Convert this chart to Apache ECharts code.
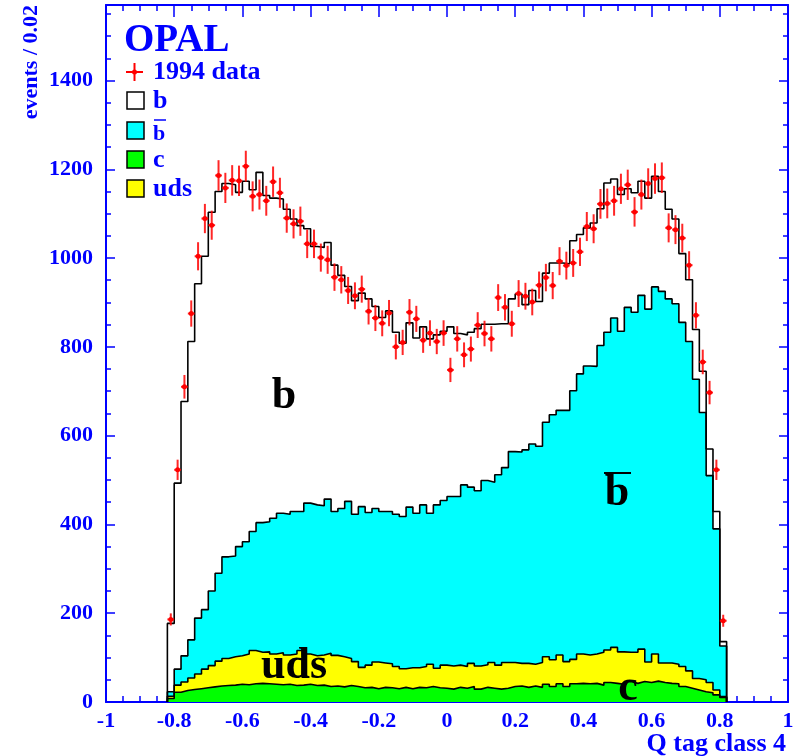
<!DOCTYPE html>
<html>
<head>
<meta charset="utf-8">
<script src="https://cdn.jsdelivr.net/npm/echarts@6/dist/echarts.min.js"></script>
<style>
  html, body { margin: 0; padding: 0; background: #ffffff; }
  #chart { width: 804px; height: 756px; }
</style>
</head>
<body>
<div id="chart"></div>
<script>
// Histogram binning: 82 bins of width 0.02 starting at -0.82
const binLow = -0.82;
const binWidth = 0.02;

// Stacked Monte Carlo contributions (each array is the running sum drawn as one outline)
// b + bbar + c + uds
const stackTotal = [
  177, 493, 677, 812, 942, 1004, 1103, 1150, 1168, 1165,
  1148, 1173, 1154, 1193, 1141, 1135, 1133, 1110, 1088, 1073,
  1066, 1026, 1024, 1035, 984, 961, 936, 904, 921, 908,
  891, 866, 881, 833, 808, 854, 820, 845, 818, 827,
  835, 845, 830, 827, 833, 841, 851, 851, 852, 852,
  908, 919, 895, 927, 902, 966, 989, 989, 987, 1039,
  1053, 1068, 1079, 1111, 1169, 1178, 1143, 1156, 1147, 1173,
  1135, 1184, 1150, 1110, 1088, 1010, 951, 839, 745, 570,
  429, 136
];
// bbar + c + uds
const stackBbar = [
  23, 74, 104, 140, 189, 208, 250, 290, 327, 329,
  350, 361, 384, 404, 406, 414, 425, 423, 429, 429,
  448, 444, 442, 457, 429, 436, 452, 423, 440, 427,
  436, 429, 429, 423, 418, 439, 425, 444, 425, 444,
  454, 463, 463, 489, 484, 476, 499, 495, 512, 528,
  564, 563, 568, 581, 576, 630, 647, 657, 657, 701,
  739, 757, 756, 803, 833, 865, 835, 889, 878, 916,
  885, 935, 925, 908, 897, 855, 812, 727, 652, 510,
  390, 126
];
// c + uds
const stackUds = [
  13, 38, 45, 54, 63, 74, 82, 92, 98, 102,
  104, 108, 116, 112, 113, 108, 111, 106, 108, 116,
  108, 104, 106, 110, 105, 102, 98, 91, 78, 83,
  90, 88, 86, 80, 75, 77, 77, 80, 85, 76,
  83, 81, 83, 80, 87, 81, 84, 89, 83, 89,
  89, 87, 87, 85, 89, 102, 95, 106, 91, 96,
  108, 106, 108, 112, 117, 123, 113, 112, 112, 119,
  90, 108, 88, 88, 85, 80, 70, 53, 50, 44,
  27, 12
];
// c
const stackC = [
  8, 22, 26, 28, 30, 32, 34, 36, 37, 38,
  40, 39, 41, 42, 41, 40, 39, 40, 37, 38,
  40, 37, 38, 35, 36, 34, 37, 35, 32, 33,
  30, 33, 32, 30, 33, 30, 33, 32, 35, 32,
  31, 29, 33, 31, 35, 29, 33, 31, 29, 31,
  35, 36, 33, 36, 33, 40, 35, 41, 35, 41,
  42, 41, 42, 38, 44, 42, 40, 46, 42, 46,
  44, 47, 44, 42, 41, 35, 31, 27, 23, 21,
  16, 10
];
// 1994 data, events per bin
const data1994 = [
  186, 523, 710, 875, 1004, 1089, 1074, 1186, 1158, 1175,
  1174, 1207, 1139, 1143, 1129, 1172, 1147, 1090, 1077, 1083,
  1032, 1032, 1001, 996, 957, 951, 927, 915, 930, 880,
  865, 853, 876, 800, 810, 878, 863, 815, 831, 812,
  831, 748, 818, 782, 795, 849, 830, 818, 911, 889,
  852, 920, 914, 901, 939, 956, 938, 993, 983, 989,
  1014, 1071, 1066, 1122, 1123, 1129, 1156, 1165, 1104, 1143,
  1168, 1179, 1181, 1068, 1064, 1045, 984, 871, 766, 697,
  523, 183
];

const xTickLabels = ['-1', '-0.8', '-0.6', '-0.4', '-0.2', '0', '0.2', '0.4', '0.6', '0.8', '1'];
const yTickLabels = ['0', '200', '400', '600', '800', '1000', '1200', '1400'];

const BLUE = '#0000ff';
const SERIF = '"Liberation Serif", "Times New Roman", serif';

// Turn per-bin heights into an outlined step polygon along the bin edges
function stepPoints(vals) {
  const pts = [[binLow, 0]];
  vals.forEach((v, i) => pts.push([binLow + i * binWidth, v]));
  const hi = binLow + vals.length * binWidth;
  pts.push([hi, vals[vals.length - 1]]);
  pts.push([hi, 0]);
  return pts;
}

function histSeries(name, vals, fill) {
  return {
    name: name,
    type: 'line',
    step: 'end',
    data: stepPoints(vals),
    symbol: 'none',
    animation: false,
    silent: true,
    lineStyle: { color: '#000000', width: 1.6 },
    areaStyle: { color: fill, opacity: 1, origin: 'start' }
  };
}

const dataPoints = data1994.map((v, i) => [binLow + (i + 0.5) * binWidth, v]);

function tickFmt(labels, step, first) {
  return function (val) {
    const idx = Math.round((val - first) / step);
    if (Math.abs(first + idx * step - val) > step * 1e-3) return '';
    return labels[idx] !== undefined ? labels[idx] : '';
  };
}

const axisFont = { color: BLUE, fontFamily: SERIF, fontWeight: 'bold', fontSize: 22 };

function xAxisDef(pos, showLabels) {
  return {
    type: 'value', position: pos, min: -1, max: 1, interval: 0.2,
    axisLine: { show: true, onZero: false, lineStyle: { color: BLUE, width: 2 } },
    axisTick: { show: true, inside: true, length: 12, lineStyle: { color: BLUE, width: 1.5 } },
    minorTick: { show: true, splitNumber: 4, length: 6, lineStyle: { color: BLUE, width: 1.5 } },
    splitLine: { show: false },
    minorSplitLine: { show: false },
    axisLabel: Object.assign({ show: showLabels, margin: 8, formatter: tickFmt(xTickLabels, 0.2, -1) }, axisFont)
  };
}
function yAxisDef(pos, showLabels) {
  return {
    type: 'value', position: pos, min: 0, max: 1570, interval: 200,
    axisLine: { show: true, onZero: false, lineStyle: { color: BLUE, width: 2 } },
    axisTick: { show: true, inside: true, length: 9, lineStyle: { color: BLUE, width: 1.5 } },
    minorTick: { show: true, splitNumber: 4, length: 5, lineStyle: { color: BLUE, width: 1.5 } },
    splitLine: { show: false },
    minorSplitLine: { show: false },
    axisLabel: Object.assign({ show: showLabels, margin: 13, formatter: tickFmt(yTickLabels, 200, 0) }, axisFont)
  };
}

// Legend rows: marker box + label
const legendRows = [
  { label: 'b', fill: '#ffffff', y: 101, ty: 101, size: 26 },
  { label: 'b', fill: '#00ffff', y: 131, ty: 134, size: 22, bar: true },
  { label: 'c', fill: '#00ff00', y: 160, ty: 160, size: 26 },
  { label: 'uds', fill: '#ffff00', y: 189, ty: 189, size: 26 }
];

const graphics = [
  { type: 'text', left: 124, top: 21, style: { text: 'OPAL', fill: BLUE, font: 'bold 39px ' + SERIF } },
  // data marker in the legend
  { type: 'line', shape: { x1: 126, y1: 72, x2: 143, y2: 72 }, style: { stroke: '#ff0000', lineWidth: 2 } },
  { type: 'line', shape: { x1: 134.5, y1: 63, x2: 134.5, y2: 81 }, style: { stroke: '#ff0000', lineWidth: 2 } },
  { type: 'circle', shape: { cx: 134.5, cy: 72, r: 2.5 }, style: { fill: '#ff0000' } },
  { type: 'text', x: 153, y: 72, style: { text: '1994 data', verticalAlign: 'middle', fill: BLUE, font: 'bold 26px ' + SERIF } }
];
legendRows.forEach(r => {
  graphics.push({ type: 'rect', shape: { x: 127, y: r.y - 9, width: 17, height: 17 },
    style: { fill: r.fill, stroke: '#000000', lineWidth: 1.5 } });
  graphics.push({ type: 'text', x: 153, y: r.ty, style: { text: r.label, verticalAlign: 'middle', fill: BLUE, font: 'bold ' + r.size + 'px ' + SERIF } });
  if (r.bar) {
    graphics.push({ type: 'line', shape: { x1: 154, y1: r.y - 11, x2: 166, y2: r.y - 11 }, style: { stroke: BLUE, lineWidth: 1.5 } });
  }
});
// component labels inside the plot
const bigFont = 'bold 44px ' + SERIF;
graphics.push(
  { type: 'text', x: 284, y: 397, z: 100, style: { text: 'b', fill: '#000000', font: bigFont, align: 'center', verticalAlign: 'middle' } },
  { type: 'text', x: 617, y: 494, z: 100, style: { text: 'b', fill: '#000000', font: bigFont, align: 'center', verticalAlign: 'middle' } },
  { type: 'line', z: 100, shape: { x1: 604, y1: 473, x2: 631, y2: 473 }, style: { stroke: '#000000', lineWidth: 2 } },
  { type: 'text', x: 294, y: 667, z: 100, style: { text: 'uds', fill: '#000000', font: bigFont, align: 'center', verticalAlign: 'middle' } },
  { type: 'text', x: 628, y: 689, z: 100, style: { text: 'c', fill: '#000000', font: bigFont, align: 'center', verticalAlign: 'middle' } },
  // axis titles
  { type: 'text', x: 786, y: 744, style: { text: 'Q tag class 4', fill: BLUE, font: 'bold 26px ' + SERIF, align: 'right', verticalAlign: 'middle' } },
  { type: 'text', x: 31, y: 5, rotation: Math.PI / 2, style: { text: 'events / 0.02', fill: BLUE, font: 'bold 22px ' + SERIF, align: 'right', verticalAlign: 'middle' } }
);

const chart = echarts.init(document.getElementById('chart'), null, { renderer: 'canvas' });
chart.setOption({
  backgroundColor: '#ffffff',
  animation: false,
  grid: { left: 106, right: 16, top: 5, bottom: 54, containLabel: false },
  xAxis: [xAxisDef('bottom', true), xAxisDef('top', false)],
  yAxis: [yAxisDef('left', true), yAxisDef('right', false)],
  series: [
    histSeries('b', stackTotal, '#ffffff'),
    histSeries('bbar', stackBbar, '#00ffff'),
    histSeries('uds', stackUds, '#ffff00'),
    histSeries('c', stackC, '#00ff00'),
    {
      name: '1994 data',
      type: 'custom',
      data: dataPoints,
      z: 10,
      animation: false,
      renderItem: function (params, api) {
        const x = api.value(0), y = api.value(1);
        const err = Math.sqrt(y);
        const c = api.coord([x, y]);
        const t = api.coord([x, y + err]);
        const b = api.coord([x, y - err]);
        const l = api.coord([x - binWidth / 2, y]);
        const r = api.coord([x + binWidth / 2, y]);
        const st = { stroke: '#ff0000', lineWidth: 2, opacity: 0.85 };
        return {
          type: 'group',
          children: [
            { type: 'line', shape: { x1: c[0], y1: t[1], x2: c[0], y2: b[1] }, style: st },
            { type: 'line', shape: { x1: l[0], y1: c[1], x2: r[0], y2: c[1] }, style: st },
            { type: 'circle', shape: { cx: c[0], cy: c[1], r: 2.5 }, style: { fill: '#ff0000' } }
          ]
        };
      }
    }
  ],
  graphic: graphics
});
</script>
</body>
</html>
